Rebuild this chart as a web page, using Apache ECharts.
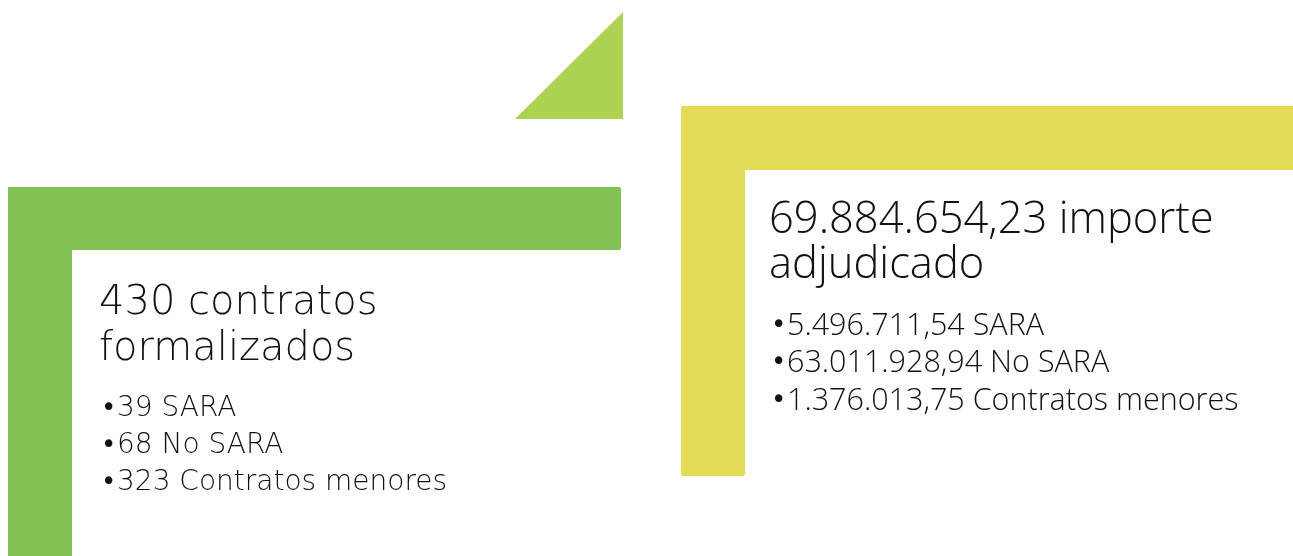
<!DOCTYPE html>
<html>
<head>
<meta charset="utf-8">
<script src="https://cdn.jsdelivr.net/npm/echarts@6/dist/echarts.min.js"></script>
<style>html,body{margin:0;padding:0;background:#fff}#c{width:1293px;height:556px}</style>
</head>
<body>
<div id="c"></div>
<script>
var leftTitle = ['430 contratos', 'formalizados'];
var leftBullets = ['39 SARA', '68 No SARA', '323 Contratos menores'];
var rightTitle = ['69.884.654,23 importe', 'adjudicado'];
var rightBullets = ['5.496.711,54 SARA', '63.011.928,94 No SARA', '1.376.013,75 Contratos menores'];

var chart = echarts.init(document.getElementById('c'), null, {renderer: 'canvas'});
var els = [];
// decorative shapes
els.push({type: 'polygon', shape: {points: [[515, 119], [623, 12], [623, 119]]}, style: {fill: '#AED252'}});
els.push({type: 'rect', shape: {x: 8, y: 187, width: 613, height: 63, r: 2}, style: {fill: '#80C354'}});
els.push({type: 'rect', shape: {x: 8, y: 187, width: 64, height: 380, r: 0}, style: {fill: '#80C354'}});
els.push({type: 'rect', shape: {x: 681, y: 106, width: 620, height: 64, r: 2}, style: {fill: '#E2DC56'}});
els.push({type: 'rect', shape: {x: 681, y: 106, width: 64, height: 370, r: 2}, style: {fill: '#E2DC56'}});

var leftFont = '"DejaVu Sans"';
var rightFont = '"Open Sans"';
leftTitle.forEach(function (t, i) {
  els.push({type: 'text', x: 99, y: 304 + i * 46, style: {text: t, font: '200 40px ' + leftFont, fill: '#111', verticalAlign: 'middle'}});
});
leftBullets.forEach(function (t, i) {
  els.push({type: 'text', x: 101, y: 409 + i * 37, style: {text: '\u2022', font: '400 26px ' + leftFont, fill: '#111', verticalAlign: 'middle'}});
  els.push({type: 'text', x: 117, y: 409 + i * 37, style: {text: t, font: '200 28px ' + leftFont, fill: '#111', verticalAlign: 'middle'}});
});
rightTitle.forEach(function (t, i) {
  els.push({type: 'text', x: 769, y: 221 + i * 45, style: {text: t, font: '300 43.5px ' + rightFont, fill: '#111', verticalAlign: 'middle'}});
});
rightBullets.forEach(function (t, i) {
  els.push({type: 'text', x: 771, y: 326 + i * 37.5, style: {text: '\u2022', font: '400 26px "DejaVu Sans"', fill: '#111', verticalAlign: 'middle'}});
  els.push({type: 'text', x: 787, y: 326 + i * 37.5, style: {text: t, font: '300 30.5px ' + rightFont, fill: '#111', verticalAlign: 'middle'}});
});

chart.setOption({
  backgroundColor: '#ffffff',
  animation: false,
  graphic: {elements: els}
});
</script>
</body>
</html>
